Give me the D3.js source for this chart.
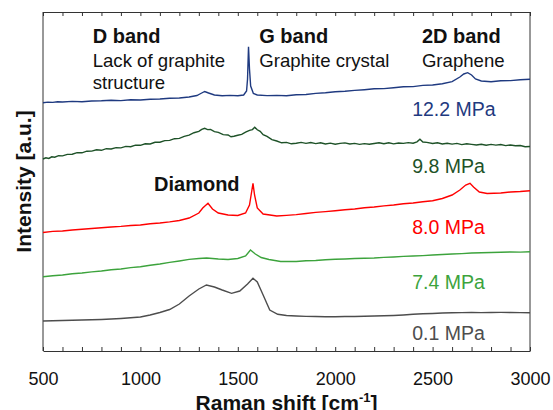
<!DOCTYPE html>
<html>
<head>
<meta charset="utf-8">
<script src="https://cdn.jsdelivr.net/npm/d3@7"></script>
<style>
  body { margin: 0; background: #fff; }
  svg { font-family: "Liberation Sans", Arial, sans-serif; }
</style>
</head>
<body>
<div id="chart"></div>
<script>
// Raman spectra, [shift cm-1, intensity a.u.] (offset stacked)
const p122 = [[500,248.3],[525,248.9],[550,248.6],[575,249.3],[600,249],[650,249.6],[700,249.3],[750,250],[800,250.2],[850,250.8],[900,250.4],[950,251.2],
  [1000,251],[1050,251.7],[1100,252],[1150,252.8],[1200,253],[1250,254],[1290,255.5],[1310,257.5],[1330,259.5],[1350,258],
  [1380,256],[1420,255.3],[1460,255.6],[1500,255.2],[1530,256],[1545,260],[1550,272],[1555,304.3],[1560,282],[1566,265],
  [1580,257.5],[1600,256],[1650,255.4],[1700,255.6],[1750,255.3],[1800,256.2],[1850,256.5],[1900,257.6],[1950,258.3],[2000,259.3],
  [2050,259.8],[2100,260.6],[2150,261.3],[2200,262.2],[2250,262.4],[2300,263.3],[2350,264.2],[2400,264.4],[2450,265.6],[2500,266],
  [2550,267.2],[2600,269.3],[2640,274],[2660,277],[2680,278.3],[2700,276],[2720,272],[2750,270],[2800,269.3],[2850,270.2],
  [2900,270.4],[2950,271.2],[3000,271.7]];
const p98 = [[500,192],[515,193.2],[530,192.6],[545,194.2],[560,193.8],[580,195.3],[600,195.1],[625,196.6],[650,196.8],[675,198.3],
  [700,198.2],[725,199.8],[750,199.9],[775,201.2],[800,200.7],[825,202.3],[850,202],[875,203.4],[900,203.1],[925,204.6],
  [950,204.3],[975,205.8],[1000,205.7],[1025,207.2],[1050,207],[1075,208.7],[1100,208.8],[1125,210.4],[1150,210.6],[1175,212.3],
  [1200,212.6],[1225,214.6],[1250,215.8],[1275,218.3],[1300,219.6],[1315,221.6],[1330,222.7],[1345,221.4],[1360,221.6],[1380,219.4],
  [1400,218.6],[1425,216.4],[1450,216],[1465,214.2],[1480,214.8],[1500,215.7],[1520,216.6],[1540,218.8],[1560,220.6],[1575,221.4],
  [1587,223.7],[1600,221.2],[1615,219.6],[1630,216.4],[1650,214.6],[1675,211.4],[1700,210],[1725,208.2],[1750,208.6],[1775,207.2],
  [1800,207.8],[1825,208.6],[1850,207.6],[1875,208.5],[1900,207.4],[1925,208.2],[1950,207],[1975,207.9],[2000,206.8],[2025,207.6],
  [2050,208.1],[2075,207],[2100,207.6],[2125,206.6],[2150,207.4],[2175,206.8],[2200,207.5],[2225,208.2],[2250,207.3],[2275,208.3],
  [2300,207.1],[2325,208],[2350,207.6],[2375,208.4],[2400,207.8],[2420,209.2],[2435,211.7],[2450,209],[2470,208.6],[2500,207.5],
  [2525,208.2],[2550,207],[2575,207.8],[2600,206.9],[2625,207.6],[2650,206.4],[2675,207.2],[2700,206.6],[2725,206],[2750,206.7],
  [2775,205.8],[2800,206.6],[2825,205.9],[2850,206.5],[2875,205.4],[2900,206],[2925,205.2],[2950,205.5],[2975,204.2],[3000,204.5]];
const p80 = [[500,118.5],[550,119.6],[600,120],[650,121],[700,121.7],[750,122.5],[800,123.2],[850,124],[900,124.6],[950,125.5],
  [1000,126],[1050,127.2],[1100,128],[1150,129.1],[1200,130.5],[1250,133],[1300,138],[1320,143],[1347,147.7],[1370,142],
  [1400,138],[1450,136],[1500,135.5],[1540,138],[1560,146],[1570,158],[1578,167.7],[1586,156],[1600,143],[1630,137],
  [1700,135],[1750,135.6],[1800,136.4],[1850,137.5],[1900,138.6],[1950,139.4],[2000,140.3],[2050,141.2],[2100,142],[2150,143.2],
  [2200,144],[2250,145.1],[2300,146],[2350,147.2],[2400,148],[2450,149.3],[2500,150.3],[2550,152.5],[2600,156],[2640,161],
  [2670,166],[2692,167.7],[2710,164],[2740,159],[2780,157.5],[2850,158],[2900,159],[2950,159.5],[3000,160.3]];
const p74 = [[500,74.3],[550,75.2],[600,76],[650,77.2],[700,78],[750,79.1],[800,80],[850,81.2],[900,82],[950,83.4],
  [1000,84.3],[1050,85.8],[1100,87],[1150,88.6],[1200,90],[1250,91.6],[1300,92.5],[1340,93],[1400,92],[1450,91.5],
  [1500,92.5],[1540,95],[1565,101],[1590,97],[1620,93.5],[1660,91.5],[1720,89.5],[1800,89.5],[1850,90.2],[1900,90.5],
  [1950,91.2],[2000,91.7],[2050,92],[2100,92.5],[2150,92.8],[2200,93],[2250,93.6],[2300,94],[2350,94.6],[2400,95],
  [2450,95.4],[2500,96],[2550,96.5],[2600,97],[2650,97.4],[2700,98],[2750,98.2],[2800,98.5],[2850,98.8],[2900,99],
  [2950,98.9],[3000,99.3]];
const p01 = [[500,30],[550,30.3],[600,30.5],[650,30.8],[700,31],[750,31.2],[800,31.5],[850,32],[900,32.5],[950,33.2],
  [1000,34],[1050,36],[1100,38.5],[1150,41.5],[1200,47],[1250,55],[1300,62],[1339,66],[1380,64],[1420,61],
  [1468,57.7],[1510,60],[1550,67],[1578,72.7],[1600,69],[1630,56],[1664,41],[1705,36.7],[1750,35.5],[1800,35],
  [1850,34.6],[1900,34.5],[1950,34.3],[2000,34.3],[2050,34.5],[2100,34.5],[2150,34.8],[2200,35],[2250,35.2],[2300,35.5],
  [2350,36],[2400,36.7],[2450,37.2],[2500,37.5],[2550,38],[2600,38.3],[2650,38.4],[2700,38.5],[2750,38.4],[2800,38.5],
  [2850,38.6],[2900,38.5],[2950,38.4],[3000,38.3]];

const pressures = ['12.2 MPa', '9.8 MPa', '8.0 MPa', '7.4 MPa', '0.1 MPa'];
const spectra = [p122, p98, p80, p74, p01];
const colors = ['#1f3a80', '#1e5228', '#ff0000', '#3ca33c', '#4d4d4d'];
const xTicks = d3.range(500, 3001, 100);

const bands = [
  {shift: 755, name: 'D band', note: ['Lack of graphite', 'structure']},
  {shift: 1610, name: 'G band', note: ['Graphite crystal']},
  {shift: 2445, name: '2D band', note: ['Graphene']}
];

const W = 553, H = 410;
const margin = {top: 12, right: 23, bottom: 59, left: 43};
const width = W - margin.left - margin.right;
const height = H - margin.top - margin.bottom;

const svg = d3.select('#chart').append('svg')
  .attr('width', W)
  .attr('height', H)
  .append('g')
  .attr('transform', `translate(${margin.left},${margin.top})`);

const x = d3.scaleLinear().domain([500, 3000]).range([0, width]);
const y = d3.scaleLinear().domain([0, height]).range([height, 0]);

// bottom axis, ticks pointing inward
const xAxis = svg.append('g')
  .attr('transform', `translate(0,${height})`)
  .call(d3.axisBottom(x).tickValues(xTicks).tickSize(-4).tickSizeOuter(0).tickPadding(21)
    .tickFormat(d => d % 500 === 0 ? d : ''));
xAxis.selectAll('text').attr('font-size', 18).attr('fill', '#111').attr('font-family', 'Liberation Sans, Arial, sans-serif');

// top axis, no labels
svg.append('g')
  .call(d3.axisTop(x).tickValues(xTicks).tickSize(-4).tickSizeOuter(0).tickFormat(''));

svg.selectAll('.domain, .tick line').attr('stroke', '#333').attr('stroke-width', 1);

// side frame lines
svg.append('line').attr('x1', 0).attr('x2', 0).attr('y1', 0).attr('y2', height).attr('stroke', '#333');
svg.append('line').attr('x1', width).attr('x2', width).attr('y1', 0).attr('y2', height).attr('stroke', '#333');

const line = d3.line().x(d => x(d[0])).y(d => y(d[1]));

svg.selectAll('path.spec')
  .data(spectra)
  .enter()
  .append('path')
  .attr('class', 'spec')
  .attr('d', line)
  .attr('fill', 'none')
  .attr('stroke', (d, i) => colors[i])
  .attr('stroke-width', 1.4);

// pressure labels
const labelY = [104, 161, 222, 277, 328];
svg.selectAll('text.press')
  .data(pressures)
  .enter()
  .append('text')
  .attr('class', 'press')
  .attr('x', x(2395))
  .attr('y', (d, i) => labelY[i])
  .attr('font-size', 19.5)
  .attr('fill', (d, i) => colors[i])
  .text(d => d);

// band annotations
const ann = svg.selectAll('g.band')
  .data(bands)
  .enter()
  .append('g')
  .attr('class', 'band')
  .attr('transform', d => `translate(${x(d.shift)},0)`);
ann.append('text')
  .attr('y', 31)
  .attr('font-size', 20)
  .attr('font-weight', 'bold')
  .attr('fill', '#111')
  .text(d => d.name);
ann.each(function(d) {
  d3.select(this).selectAll('text.note')
    .data(d.note)
    .enter()
    .append('text')
    .attr('class', 'note')
    .attr('y', (t, j) => 55 + j * 21.5)
    .attr('font-size', 18.6)
    .attr('fill', '#111')
    .text(t => t);
});

svg.append('text')
  .attr('x', x(1070))
  .attr('y', 179)
  .attr('font-size', 20)
  .attr('font-weight', 'bold')
  .attr('fill', '#111')
  .text('Diamond');

// axis titles
const xt = svg.append('text')
  .attr('x', width / 2)
  .attr('y', height + 59)
  .attr('text-anchor', 'middle')
  .attr('font-size', 21)
  .attr('font-weight', 'bold')
  .attr('fill', '#111')
  .text('Raman shift [cm');
xt.append('tspan').attr('font-size', 13).attr('dy', -8).text('-1');
xt.append('tspan').attr('dy', 8).text(']');

svg.append('text')
  .attr('transform', `translate(${-12},${height / 2}) rotate(-90)`)
  .attr('text-anchor', 'middle')
  .attr('font-size', 21)
  .attr('font-weight', 'bold')
  .attr('fill', '#111')
  .text('Intensity [a.u.]');
</script>
</body>
</html>
